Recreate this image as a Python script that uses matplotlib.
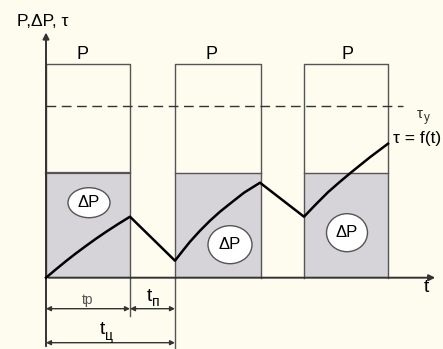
import matplotlib
matplotlib.use('Agg')
import matplotlib.pyplot as plt
from matplotlib.patches import Rectangle, Ellipse

plt.rcParams['font.family'] = ['Liberation Sans', 'DejaVu Sans']

# diagram values (time on x, level on y)
work_start = [0, 129, 258]
work_end = [84, 215, 342]
p_level = 214
dp_level = 105
tau_y = 172

tau_t = [0, 10, 20, 30, 40, 50, 60, 72, 84,
         129, 136, 144, 154, 164, 174, 184, 198, 214,
         258, 270, 282, 294, 306, 324, 342]
tau_val = [0, 8.4, 16.6, 24.4, 31.8, 39, 45.8, 53.6, 61,
           17, 26, 36, 47, 57, 66, 74, 85, 95,
           61, 73.5, 85.5, 96, 106, 120.5, 134]

dp_label_x = [43, 184, 301]
dp_label_y = [75, 33, 45]
p_label_x = [37, 166, 302]

bg = '#fdfcef'
fill = '#d6d3d9'
edge = '#555555'

fig = plt.figure(figsize=(4.43, 3.49), dpi=100, facecolor=bg)
ax = fig.add_axes([0, 0, 1, 1])
ax.set_facecolor(bg)
ax.set_xlim(-46, 397)
ax.set_ylim(-71.3, 277.7)
ax.axis('off')

# P and dP rectangles
for i, (s, e) in enumerate(zip(work_start, work_end)):
    ax.add_patch(Rectangle((s, 0), e - s, dp_level, facecolor=fill, edgecolor='none', zorder=1))
    ax.plot([s, s, e, e], [0, p_level, p_level, 0], color=edge, lw=1.0, zorder=2)
    ax.plot([s, e], [dp_level, dp_level], color=edge, lw=1.6 if i == 0 else 1.0, zorder=2)
    ax.text(p_label_x[i], p_level + 1, 'P', fontsize=13, ha='center', va='bottom')

# dP ellipses
sizes = [(42, 30), (44, 38), (41, 38)]
for x, y, (w, h) in zip(dp_label_x, dp_label_y, sizes):
    ax.add_patch(Ellipse((x, y), w, h, facecolor='white', edgecolor='#555555', lw=1.0, zorder=3))
    ax.text(x, y, '\u0394P', fontsize=12, ha='center', va='center', zorder=4)

# yield level
ax.plot([0, 357], [tau_y, tau_y], color='#333333', lw=1.0, dashes=(7, 4), zorder=2)
ax.text(374, tau_y - 8, '\u03c4', fontsize=11, ha='center', va='center', color='#333333')
ax.text(381, tau_y - 12, 'y', fontsize=8.5, ha='center', va='center', color='#333333')

# tau = f(t)
ax.plot(tau_t, tau_val, color='black', lw=1.8, zorder=5, solid_joinstyle='round')
ax.text(347, 139, '\u03c4 = f(t)', fontsize=12.5, ha='left', va='center')

# axes
ax.annotate('', xy=(0, 248), xytext=(0, -71.3),
            arrowprops=dict(arrowstyle='-|>', color='#333333', lw=1.4, mutation_scale=9))
ax.annotate('', xy=(392, 0), xytext=(0, 0),
            arrowprops=dict(arrowstyle='-|>', color='#333333', lw=1.4, mutation_scale=9))
ax.text(-29, 256, 'P,\u0394P, \u03c4', fontsize=12.5, ha='left', va='center')
ax.text(380, -10, 't', fontsize=14, ha='center', va='center')

# extension lines
ax.plot([129, 129], [0, -71.3], color=edge, lw=1.0)
ax.plot([84, 84], [0, -38], color=edge, lw=1.0)

# dimension arrows
dim = dict(arrowstyle='<|-|>', color='#333333', lw=1.0, mutation_scale=7, shrinkA=0, shrinkB=0)
ax.annotate('', xy=(0, -31), xytext=(84, -31), arrowprops=dim)
ax.annotate('', xy=(84, -31), xytext=(129, -31), arrowprops=dim)
ax.annotate('', xy=(0, -65), xytext=(129, -65), arrowprops=dim)
ax.text(42, -22, 't\u0440', fontsize=10, ha='center', va='center', color='#555555')
ax.text(103, -19, 't', fontsize=14, ha='center', va='center')
ax.text(110, -24, '\u043f', fontsize=10, ha='center', va='center')
ax.text(56, -52, 't', fontsize=14, ha='center', va='center')
ax.text(63, -58, '\u0446', fontsize=10, ha='center', va='center')

fig.savefig('out.png', dpi=100, facecolor=bg)
